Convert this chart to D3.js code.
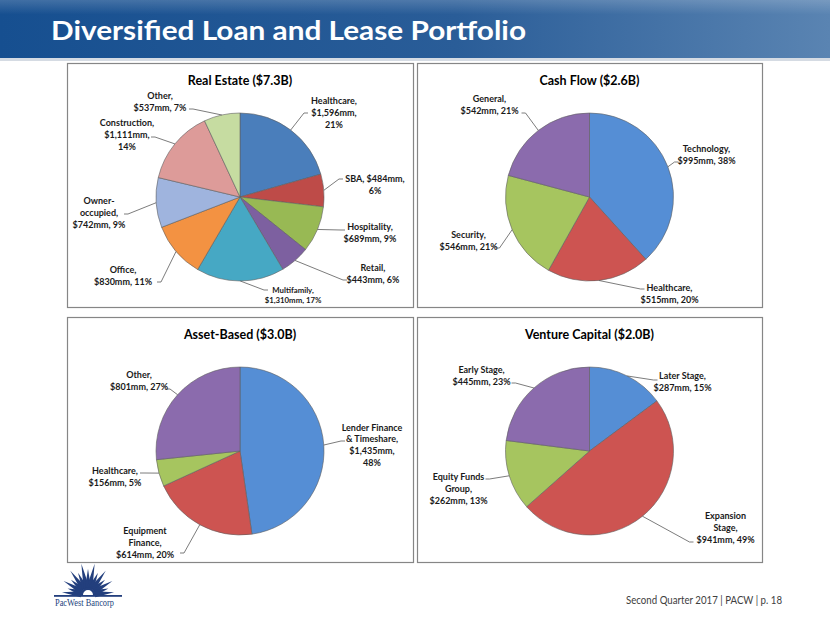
<!DOCTYPE html>
<html><head><meta charset="utf-8">
<script src="https://cdn.jsdelivr.net/npm/d3@7/dist/d3.min.js"></script>
<style>body{margin:0;background:#fff}svg{display:block}</style>
</head><body>
<script>
// ---------- DATA ----------
const pageTitle = "Diversified Loan and Lease Portfolio";
const footerText = "Second Quarter 2017 | PACW | p. 18";
const logoText = "PacWest Bancorp";

const reTitle = "Real Estate ($7.3B)";
const reCategories = ["Healthcare","SBA","Hospitality","Retail","Multifamily","Office","Owner-occupied","Construction","Other"];
const reValues = [1596,484,689,443,1310,830,742,1111,537];
const rePercents = [21,6,9,6,17,11,9,14,7];

const cfTitle = "Cash Flow ($2.6B)";
const cfCategories = ["Technology","Healthcare","Security","General"];
const cfValues = [995,515,546,542];
const cfPercents = [38,20,21,21];

const abTitle = "Asset-Based ($3.0B)";
const abCategories = ["Lender Finance & Timeshare","Equipment Finance","Healthcare","Other"];
const abValues = [1435,614,156,801];
const abPercents = [48,20,5,27];

const vcTitle = "Venture Capital ($2.0B)";
const vcCategories = ["Later Stage","Expansion Stage","Equity Funds Group","Early Stage"];
const vcValues = [287,941,262,445];
const vcPercents = [15,49,13,23];

// ---------- STYLE / LAYOUT ----------
const reColors = ["#4a7ebb","#be4b48","#98b954","#7d60a0","#46a8c4","#f39242","#9fb4de","#dd9b99","#c6dca1"];
const fourColors = ["#558ed5","#cd5451","#a6c55f","#8b6bad"];

// label layout: [text dx, text dy, leader end dx, leader end dy, tokens per line, font size]
const reLayout = [
  [94,-84,68,-84,[1,1,1],9],
  [135,-12,103,-18,[2,1],9],
  [130,36,105,33,[1,2],9],
  [133,77,107,83,[1,2],9],
  [53,98,28,93,[1,2],7.8],
  [-117,79,-83,85,[1,2],9],
  [-141,16,-116,17,[1,1,2],9],
  [-113,-62,-89,-60,[1,1,1],9],
  [-80,-95,-51,-88,[1,2],9]
];
const cfLayout = [
  [117,-42,89,-35,[1,2],9],
  [80,97,55,92,[1,2],9],
  [-121,44,-94,51,[1,2],9],
  [-100,-92,-68,-84,[1,2],9]
];
const abLayout = [
  [132,-6,105,-10,[2,2,1,1],9],
  [-95,92,-60,102,[1,1,2],9],
  [-125,26,-100,22,[1,2],9],
  [-101,-70,-74,-62,[1,2],9]
];
const vcLayout = [
  [93,-69,68,-71,[2,2],9],
  [136,77,104,91,[1,1,2],9],
  [-131,38,-104,28,[2,1,2],9],
  [-108,-75,-78,-68,[2,2],9]
];

const W = 830, H = 623;
const svg = d3.select("body").append("svg").attr("width", W).attr("height", H);
const defs = svg.append("defs");

// title bar
const grad = defs.append("linearGradient").attr("id","bar").attr("x1","0").attr("x2","1").attr("y1","0").attr("y2","0");
grad.append("stop").attr("offset","0").attr("stop-color","#164f90");
grad.append("stop").attr("offset","0.55").attr("stop-color","#2a5d98");
grad.append("stop").attr("offset","1").attr("stop-color","#5a84b2");
const gradV = defs.append("linearGradient").attr("id","barV").attr("x1","0").attr("x2","0").attr("y1","0").attr("y2","1");
gradV.append("stop").attr("offset","0").attr("stop-color","#ffffff").attr("stop-opacity",0.18);
gradV.append("stop").attr("offset","0.25").attr("stop-color","#ffffff").attr("stop-opacity",0);
svg.append("rect").attr("x",0).attr("y",0).attr("width",W).attr("height",58).attr("fill","url(#bar)");
svg.append("rect").attr("x",0).attr("y",0).attr("width",W).attr("height",58).attr("fill","url(#barV)");
svg.append("rect").attr("x",0).attr("y",58).attr("width",W).attr("height",3).attr("fill","#d5dbe3");

svg.append("text").attr("x",51).attr("y",39.5)
  .attr("font-family","Lato, 'Open Sans', sans-serif").attr("font-weight","bold")
  .attr("font-size",26.5).attr("fill","#fff")
  .attr("textLength",475).attr("lengthAdjust","spacingAndGlyphs")
  .text(pageTitle);

// panels
const panels = [
  {title:reTitle, cats:reCategories, vals:reValues, pcts:rePercents, colors:reColors, layout:reLayout, x:67, y:63, w:346, h:244},
  {title:cfTitle, cats:cfCategories, vals:cfValues, pcts:cfPercents, colors:fourColors, layout:cfLayout, x:417, y:63, w:345, h:244},
  {title:abTitle, cats:abCategories, vals:abValues, pcts:abPercents, colors:fourColors, layout:abLayout, x:67, y:317, w:346, h:245},
  {title:vcTitle, cats:vcCategories, vals:vcValues, pcts:vcPercents, colors:fourColors, layout:vcLayout, x:417, y:317, w:345, h:245}
];

const fmt = d3.format(",");
const R = 84;
const pie = d3.pie().sort(null).value(d => d);
const arc = d3.arc().innerRadius(0).outerRadius(R);

panels.forEach(p => {
  const g = svg.append("g");
  g.append("rect").attr("x",p.x+0.5).attr("y",p.y+0.5).attr("width",p.w).attr("height",p.h)
    .attr("fill","#fff").attr("stroke","#868686").attr("stroke-width",1.2);
  const cx = p.x + p.w/2, cy = p.y + 134;
  g.append("text").attr("x",cx).attr("y",p.y+21.5).attr("text-anchor","middle")
    .attr("font-family","Lato, sans-serif").attr("font-weight","bold").attr("font-size",12.5)
    .attr("fill","#000").text(p.title);
  const pg = g.append("g").attr("transform",`translate(${cx},${cy})`);
  const arcs = pie(p.vals);
  const color = d3.scaleOrdinal().domain(p.cats).range(p.colors);
  pg.selectAll("path.slice").data(arcs).join("path").attr("class","slice")
    .attr("d",arc).attr("fill",(d,i)=>color(p.cats[i]))
    .attr("stroke","#5f5f5f").attr("stroke-width",0.6);

  arcs.forEach((a,i) => {
    const L = p.layout[i];
    const mid = (a.startAngle + a.endAngle)/2;
    const sx = R*Math.sin(mid), sy = -R*Math.cos(mid);
    const ex = L[2], ey = L[3];
    const s = Math.sign(L[0]-ex) || 1;
    pg.append("path")
      .attr("d",`M${sx},${sy}L${ex-4*s},${ey}L${ex},${ey}`)
      .attr("fill","none").attr("stroke","#5a5a5a").attr("stroke-width",0.8);
    const full = `${p.cats[i]}, $${fmt(p.vals[i])}mm, ${p.pcts[i]}%`;
    const tokens = full.match(/[^\s-]+-?/g);
    const lines = []; let k = 0;
    L[4].forEach(n => { lines.push(tokens.slice(k,k+n).join(" ")); k += n; });
    const fs = L[5], lh = fs*1.3;
    const t = pg.append("text").attr("text-anchor","middle")
      .attr("font-family","Lato, sans-serif").attr("font-weight","bold").attr("font-size",fs).attr("fill","#1a1a1a");
    const top = L[1] - (lines.length-1)*lh/2 + fs*0.35;
    lines.forEach((ln,j) => t.append("tspan").attr("x",L[0]).attr("y",top + j*lh).text(ln));
  });
});

// footer
svg.append("text").attr("x",626).attr("y",604)
  .attr("font-family","Lato, sans-serif").attr("font-size",10.5).attr("fill","#404040")
  .attr("textLength",156).attr("lengthAdjust","spacingAndGlyphs")
  .text(footerText);

// logo
const logo = svg.append("g").attr("transform","translate(88,595)");
const navy = "#233f7d";
const rayAngles = d3.range(-84, 85, 12);
rayAngles.forEach((deg,i) => {
  const a = deg*Math.PI/180;
  const len = (i%2===0 ? 33 : 26) * (1 - 0.22*Math.abs(deg)/90);
  const w = 3;
  const tip = [len*Math.sin(a), -len*Math.cos(a)];
  const b1 = [7*Math.sin(a) + w*Math.cos(a), -7*Math.cos(a) + w*Math.sin(a)];
  const b2 = [7*Math.sin(a) - w*Math.cos(a), -7*Math.cos(a) - w*Math.sin(a)];
  logo.append("path").attr("d",`M${b1}L${tip}L${b2}Z`).attr("fill",navy);
});
logo.append("path").attr("d",d3.arc()({innerRadius:5,outerRadius:7.5,startAngle:-Math.PI/2,endAngle:Math.PI/2})).attr("fill",navy);
logo.append("rect").attr("x",-34).attr("y",0).attr("width",68).attr("height",1.8).attr("fill",navy);
svg.append("text").attr("x",55).attr("y",606)
  .attr("font-family","'Liberation Serif', serif").attr("font-size",9.5).attr("fill",navy)
  .attr("textLength",59).attr("lengthAdjust","spacingAndGlyphs")
  .text(logoText);
</script>
</body></html>
